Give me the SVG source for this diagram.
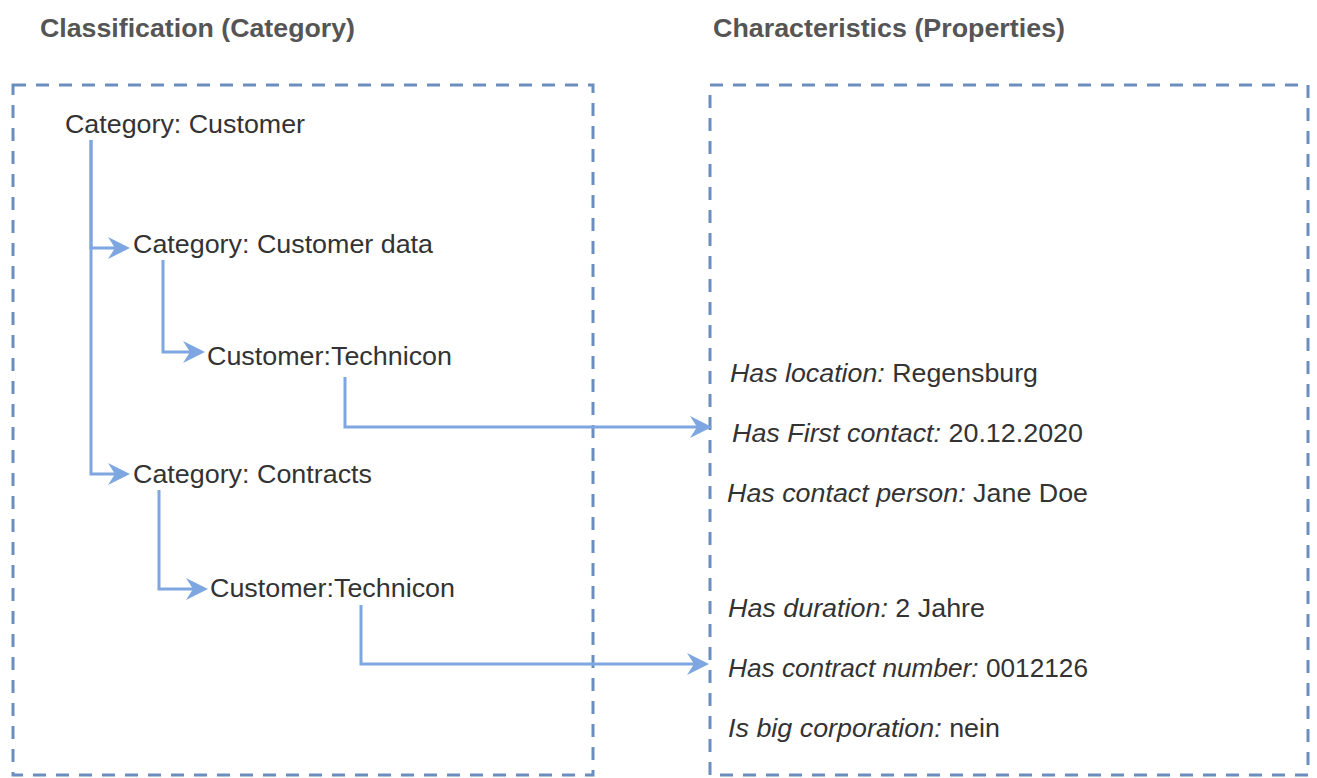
<svg xmlns="http://www.w3.org/2000/svg" width="1317" height="778" viewBox="0 0 1317 778">
  <style>
    .title { font-family: "Liberation Sans", Arial, sans-serif; font-size: 25px; font-weight: bold; fill: #555555; }
    .lbl { font-family: "Liberation Sans", Arial, sans-serif; font-size: 25px; fill: #333333; }
    .it { font-style: italic; }
    .box { fill: none; stroke: #6c8ebf; stroke-width: 3; stroke-dasharray: 13 10; }
    .edge { fill: none; stroke: #7ea6e0; stroke-width: 3; marker-end: url(#arrow); }
  </style>
  <defs>
    <marker id="arrow" viewBox="0 0 22 22" refX="7" refY="11" markerWidth="22" markerHeight="22" markerUnits="userSpaceOnUse" orient="auto">
      <path d="M0,0 L22,11 L0,22 L7,11 Z" fill="#7ea6e0"/>
    </marker>
  </defs>
  <rect width="1317" height="778" fill="#ffffff"/>

  <g id="titles">
    <text class="title" x="40" y="37" textLength="315" lengthAdjust="spacingAndGlyphs">Classification (Category)</text>
    <text class="title" x="713" y="37" textLength="352" lengthAdjust="spacingAndGlyphs">Characteristics (Properties)</text>
  </g>

  <g id="classification-box"><rect class="box" x="13" y="85" width="580" height="690"/></g>
  <g id="characteristics-box"><rect class="box" x="710" y="85" width="598" height="690"/></g>

  <g id="connectors">
    <path class="edge" d="M91,140 V248 H115"/>
    <path class="edge" d="M91,140 V474 H115"/>
    <path class="edge" d="M163,260 V352 H190"/>
    <path class="edge" d="M345,377 V427 H697"/>
    <path class="edge" d="M159,490 V589 H193"/>
    <path class="edge" d="M361,605 V664 H694"/>
  </g>

  <g id="cat-customer"><text class="lbl" x="65" y="133" textLength="240" lengthAdjust="spacingAndGlyphs">Category: Customer</text></g>
  <g id="cat-customer-data"><text class="lbl" x="133" y="253" textLength="300" lengthAdjust="spacingAndGlyphs">Category: Customer data</text></g>
  <g id="customer-technicon-1"><text class="lbl" x="207" y="365" textLength="245" lengthAdjust="spacingAndGlyphs">Customer:Technicon</text></g>
  <g id="cat-contracts"><text class="lbl" x="133" y="483" textLength="239" lengthAdjust="spacingAndGlyphs">Category: Contracts</text></g>
  <g id="customer-technicon-2"><text class="lbl" x="210" y="597" textLength="245" lengthAdjust="spacingAndGlyphs">Customer:Technicon</text></g>

  <g id="props-customer">
    <text class="lbl" x="730" y="382" textLength="308" lengthAdjust="spacingAndGlyphs"><tspan class="it">Has location:</tspan> Regensburg</text>
    <text class="lbl" x="732" y="442" textLength="351" lengthAdjust="spacingAndGlyphs"><tspan class="it">Has First contact:</tspan> 20.12.2020</text>
    <text class="lbl" x="727" y="502" textLength="361" lengthAdjust="spacingAndGlyphs"><tspan class="it">Has contact person:</tspan> Jane Doe</text>
  </g>
  <g id="props-contract">
    <text class="lbl" x="728" y="617" textLength="257" lengthAdjust="spacingAndGlyphs"><tspan class="it">Has duration:</tspan> 2 Jahre</text>
    <text class="lbl" x="728" y="677" textLength="360" lengthAdjust="spacingAndGlyphs"><tspan class="it">Has contract number:</tspan> 0012126</text>
    <text class="lbl" x="728" y="737" textLength="272" lengthAdjust="spacingAndGlyphs"><tspan class="it">Is big corporation:</tspan> nein</text>
  </g>
</svg>
